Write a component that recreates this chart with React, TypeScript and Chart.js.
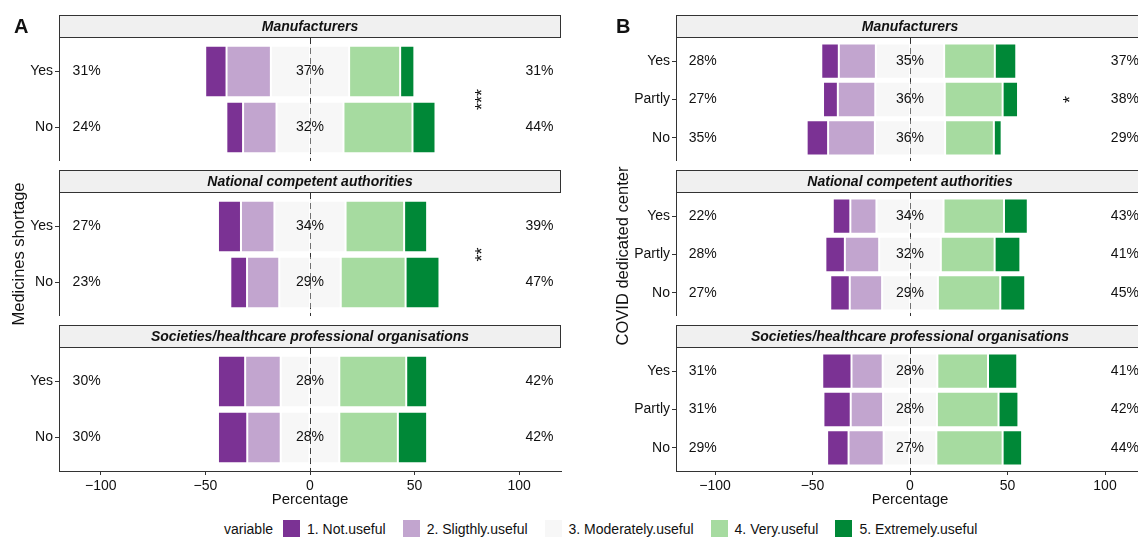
import React, { useEffect, useRef } from 'react';
import { Chart, registerables } from 'chart.js';

Chart.register(...registerables);

const FONT = '"Liberation Sans", Arial, Helvetica, sans-serif';
const INK = '#111111';
const AXIS = '#333333';

// ---------- data ----------
const LEVELS = ['1. Not.useful', '2. Sligthly.useful', '3. Moderately.useful', '4. Very.useful', '5. Extremely.useful'];
const LEVEL_COLORS = ['#7B3294', '#C2A5CF', '#F7F7F7', '#A6DBA0', '#008837'];
const FACET_TITLES = ['Manufacturers', 'National competent authorities', 'Societies/healthcare professional organisations'];

const ROWS_A = ['Yes', 'No'];
const ROWS_B = ['Yes', 'Partly', 'No'];

// each row: [Not, Slightly, Moderately, Very, Extremely] (%)
const A_MANUFACTURERS = [[10.2, 21.2, 37.4, 24.4, 6.8], [8, 16, 32, 33, 11]];
const A_AUTHORITIES = [[11, 16, 34, 28, 11], [8, 15.4, 29.4, 31, 16.2]];
const A_SOCIETIES = [[13, 17, 28, 32, 10], [14, 16, 28, 28, 14]];

const B_MANUFACTURERS = [[9, 19, 35, 26, 11], [7.6, 19.2, 35.6, 29.7, 7.9], [11, 24, 36, 25, 4]];
const B_AUTHORITIES = [[9, 13.4, 34.4, 31, 12.2], [10, 17.6, 31.6, 27.6, 13.2], [10, 16.6, 28.6, 32, 12.8]];
const B_SOCIETIES = [[15, 16, 28, 26, 15], [14, 16.6, 27.6, 31.6, 10.2], [11, 18, 27, 34, 10]];

const A_STARS = ['***', '**', ''];
const A_STAR_ROW = [1.5, 1.5, 0];
const B_STARS = ['*', '', ''];
const B_STAR_ROW = [2, 0, 0];
const STAR_X = 80;

const X_TICKS = [-100, -50, 0, 50, 100];
const X_MIN = -120;
const X_MAX = 120;
const LABEL_LEFT_X = -113.5;
const LABEL_RIGHT_X = 103;

const STRIP = 23;
const PANEL = 123;
const XAXIS = 38;
const PITCH = 155;
const FIRST_TOP = 15;

type FacetProps = {
  left: number;
  top: number;
  width: number;
  axisWidth: number;
  rightPad: number;
  rows: string[];
  values: number[][];
  title: string;
  star: string;
  starRow: number;
  showX: boolean;
};

function Facet(props: FacetProps) {
  const { left, top, width, axisWidth, rightPad, rows, values, title, star, starRow, showX } = props;
  const height = STRIP + PANEL + (showX ? XAXIS : 0);
  const ref = useRef<HTMLCanvasElement | null>(null);

  useEffect(() => {
    const canvas = ref.current;
    if (!canvas) return;
    const order: [number, number][] = [[2, -0.5], [2, 0.5], [1, -1], [3, 1], [0, -1], [4, 1]];
    const datasets = order.map(([lvl, sgn]) => ({
      label: LEVELS[lvl],
      data: values.map((r, i) => ({ x: r[lvl] * sgn, y: i + 1 })),
      backgroundColor: LEVEL_COLORS[lvl],
      borderColor: 'rgba(255,255,255,0.35)',
      borderWidth: 1,
      borderSkipped: false as any,
      stack: 'likert',
      barPercentage: 0.92,
      categoryPercentage: 1,
    }));

    const decor = {
      id: 'facetDecor',
      beforeDraw(chart: any) {
        const { ctx, chartArea: a } = chart;
        ctx.save();
        ctx.fillStyle = '#f0f0f0';
        ctx.fillRect(a.left, a.top - STRIP, a.right - a.left, STRIP);
        ctx.strokeStyle = AXIS;
        ctx.lineWidth = 1;
        ctx.strokeRect(Math.round(a.left) + 0.5, Math.round(a.top - STRIP) + 0.5, Math.round(a.right - a.left) - 1, STRIP - 1);
        ctx.fillStyle = INK;
        ctx.font = `italic bold 14px ${FONT}`;
        ctx.textAlign = 'center';
        ctx.textBaseline = 'middle';
        ctx.fillText(title, (a.left + a.right) / 2, a.top - STRIP / 2 + 0.5);
        ctx.restore();
      },
      beforeDatasetsDraw(chart: any) {
        const { ctx, chartArea: a, scales } = chart;
        const x0 = Math.round(scales.x.getPixelForValue(0)) + 0.5;
        ctx.save();
        ctx.strokeStyle = AXIS;
        ctx.lineWidth = 1;
        ctx.setLineDash([6, 4]);
        ctx.beginPath();
        ctx.moveTo(x0, a.top);
        ctx.lineTo(x0, a.bottom);
        ctx.stroke();
        ctx.restore();
      },
      afterDatasetsDraw(chart: any) {
        const { ctx, chartArea: a, scales } = chart;
        const x0 = Math.round(scales.x.getPixelForValue(0)) + 0.5;
        ctx.save();
        ctx.strokeStyle = 'rgba(0,0,0,0.06)';
        ctx.lineWidth = 1;
        ctx.beginPath();
        ctx.moveTo(x0, a.top);
        ctx.lineTo(x0, a.bottom);
        ctx.stroke();
        ctx.fillStyle = INK;
        ctx.font = `14px ${FONT}`;
        ctx.textBaseline = 'middle';
        values.forEach((r, i) => {
          const py = scales.y.getPixelForValue(i + 1);
          const low = Math.round(r[0] + r[1]);
          const mid = Math.round(r[2]);
          const high = Math.round(r[3] + r[4]);
          ctx.textAlign = 'left';
          ctx.fillText(low + '%', scales.x.getPixelForValue(LABEL_LEFT_X), py);
          ctx.textAlign = 'center';
          ctx.fillText(mid + '%', scales.x.getPixelForValue(0), py);
          ctx.textAlign = 'left';
          ctx.fillText(high + '%', scales.x.getPixelForValue(LABEL_RIGHT_X), py);
        });
        if (star) {
          const px = scales.x.getPixelForValue(STAR_X);
          const py = scales.y.getPixelForValue(starRow);
          ctx.translate(px, py);
          ctx.rotate(-Math.PI / 2);
          ctx.font = `18px ${FONT}`;
          ctx.textAlign = 'center';
          ctx.textBaseline = 'alphabetic';
          ctx.fillText(star, 0, 18 * 0.58);
        }
        ctx.restore();
      },
    };

    const tickFont = { family: FONT, size: 14 };
    const chart = new Chart(canvas, {
      type: 'bar',
      data: { datasets: datasets as any },
      options: {
        indexAxis: 'y',
        animation: false,
        responsive: false,
        events: [],
        layout: { padding: { top: STRIP, left: 0, right: rightPad, bottom: 0 } },
        plugins: { legend: { display: false }, tooltip: { enabled: false }, title: { display: false } },
        scales: {
          x: {
            type: 'linear',
            min: X_MIN,
            max: X_MAX,
            bounds: 'data',
            offset: false,
            stacked: true,
            display: showX,
            afterBuildTicks: (s: any) => {
              s.ticks = X_TICKS.map((v) => ({ value: v }));
            },
            afterFit: (s: any) => {
              s.height = showX ? XAXIS : 0;
              s.paddingLeft = 0;
              s.paddingRight = 0;
            },
            ticks: {
              font: tickFont,
              color: INK,
              padding: 3,
              maxRotation: 0,
              autoSkip: false,
              callback: (v: any) => (Number(v) < 0 ? '\u2212' + Math.abs(Number(v)) : String(v)),
            },
            grid: { offset: false, drawOnChartArea: false, drawTicks: true, tickLength: 4, tickColor: AXIS },
            border: { display: true, color: AXIS, width: 1 },
            title: { display: true, text: 'Percentage', color: INK, font: { family: FONT, size: 15 }, padding: { top: 0, bottom: 0 } },
          },
          y: {
            type: 'linear',
            reverse: true,
            min: 0.4,
            max: rows.length + 0.6,
            bounds: 'data',
            offset: false,
            stacked: true,
            afterBuildTicks: (s: any) => {
              s.ticks = rows.map((_, i) => ({ value: i + 1 }));
            },
            afterFit: (s: any) => {
              s.width = axisWidth;
              s.paddingTop = 0;
              s.paddingBottom = 0;
            },
            ticks: {
              font: tickFont,
              color: INK,
              padding: 2,
              autoSkip: false,
              callback: (v: any) => rows[Math.round(Number(v)) - 1] ?? '',
            },
            grid: { offset: false, drawOnChartArea: false, drawTicks: true, tickLength: 4, tickColor: AXIS },
            border: { display: true, color: AXIS, width: 1 },
          },
        },
      } as any,
      plugins: [decor as any],
    });
    return () => chart.destroy();
  }, []);

  return (
    <canvas
      ref={ref}
      width={width}
      height={height}
      style={{ position: 'absolute', left, top, width, height }}
    />
  );
}

const PANEL_A = [A_MANUFACTURERS, A_AUTHORITIES, A_SOCIETIES];
const PANEL_B = [B_MANUFACTURERS, B_AUTHORITIES, B_SOCIETIES];

export default function App() {
  const text: React.CSSProperties = { position: 'absolute', color: INK, whiteSpace: 'nowrap' };
  return (
    <div
      style={{
        position: 'fixed',
        left: 0,
        top: 0,
        width: 1138,
        height: 538,
        overflow: 'hidden',
        background: '#ffffff',
        fontFamily: FONT,
      }}
    >
      {PANEL_A.map((vals, k) => (
        <Facet
          key={'a' + k}
          left={0}
          top={FIRST_TOP + PITCH * k}
          width={569}
          axisWidth={59}
          rightPad={8}
          rows={ROWS_A}
          values={vals}
          title={FACET_TITLES[k]}
          star={A_STARS[k]}
          starRow={A_STAR_ROW[k]}
          showX={k === 2}
        />
      ))}
      {PANEL_B.map((vals, k) => (
        <Facet
          key={'b' + k}
          left={569}
          top={FIRST_TOP + PITCH * k}
          width={591}
          axisWidth={107}
          rightPad={16}
          rows={ROWS_B}
          values={vals}
          title={FACET_TITLES[k]}
          star={B_STARS[k]}
          starRow={B_STAR_ROW[k]}
          showX={k === 2}
        />
      ))}

      <div style={{ ...text, left: 14, top: 16, fontSize: 20, lineHeight: '20px', fontWeight: 'bold' }}>A</div>
      <div style={{ ...text, left: 616, top: 16, fontSize: 20, lineHeight: '20px', fontWeight: 'bold' }}>B</div>

      <div
        style={{
          ...text,
          left: 18,
          top: 254,
          fontSize: 16.5,
          lineHeight: '19px',
          transform: 'translate(-50%,-50%) rotate(-90deg)',
        }}
      >
        Medicines shortage
      </div>
      <div
        style={{
          ...text,
          left: 622,
          top: 256,
          fontSize: 16.5,
          lineHeight: '19px',
          transform: 'translate(-50%,-50%) rotate(-90deg)',
        }}
      >
        COVID dedicated center
      </div>

      <div
        style={{
          position: 'absolute',
          left: 224,
          top: 520,
          height: 17,
          display: 'flex',
          alignItems: 'center',
          fontSize: 14,
          color: INK,
          whiteSpace: 'nowrap',
        }}
      >
        <span style={{ marginRight: 10 }}>variable</span>
        {LEVELS.map((lv, i) => (
          <span key={lv} style={{ display: 'flex', alignItems: 'center', marginRight: i < LEVELS.length - 1 ? 17 : 0 }}>
            <span style={{ display: 'inline-block', width: 17, height: 17, background: LEVEL_COLORS[i], marginRight: 7 }} />
            <span>{lv}</span>
          </span>
        ))}
      </div>
    </div>
  );
}
